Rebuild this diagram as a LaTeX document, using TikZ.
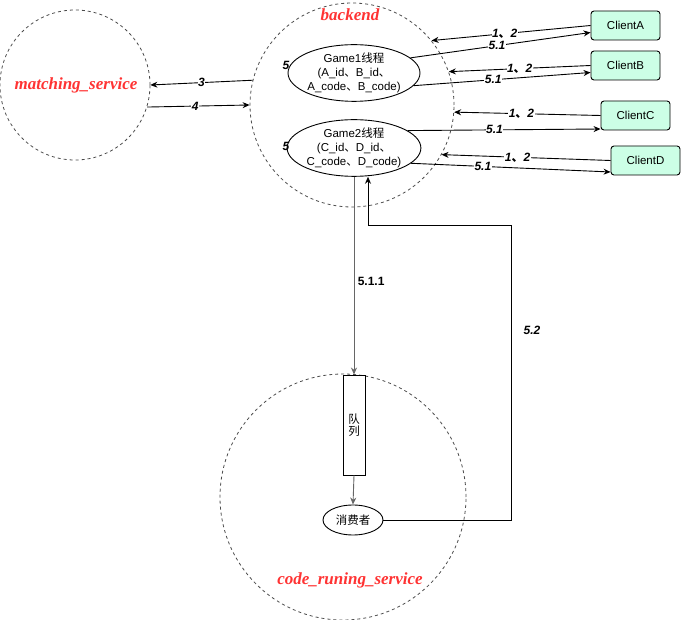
\documentclass[tikz,border=0pt]{standalone}
\usepackage{fontspec}
\setmainfont{Liberation Sans}
\newfontfamily\cjk{Noto Sans CJK SC}
\newfontfamily\svcfont{Liberation Serif}
\usetikzlibrary{arrows.meta,shapes.geometric}
\definecolor{svcred}{RGB}{255,51,51}
\definecolor{clientfill}{RGB}{204,255,230}
\tikzset{
  service/.style={circle,draw=black!70,dashed,dash pattern=on 3pt off 3pt,line width=0.8pt,inner sep=0pt},
  svclabel/.style={text=svcred,font=\svcfont\fontsize{17}{19}\selectfont\bfseries\itshape},
  thread/.style={ellipse,draw,line width=0.9pt,inner sep=0pt,align=center,font=\fontsize{11.5}{14}\selectfont},
  client/.style={rectangle,rounded corners=3pt,draw,fill=clientfill,line width=0.9pt,minimum width=69pt,minimum height=29pt,font=\fontsize{11.5}{13}\selectfont},
  arr/.style={-{Stealth[length=7pt,width=6pt]},line width=0.9pt},
  lbl/.style={fill=white,inner sep=0.5pt,font=\fontsize{12}{14}\selectfont\bfseries\itshape}
}
\begin{document}
\begin{tikzpicture}[x=1pt,y=-1pt]
  \useasboundingbox (0,0) rectangle (681,620);
  % services
  \node[service,minimum size=150pt] (ms) at (75,85) {};
  \node[service,minimum size=204pt] (be) at (352,105) {};
  \node[service,minimum size=246pt] (crs) at (343,497) {};
  \node[svclabel] (mslbl) at (76,85) {matching\_service};
  \node[svclabel] (belbl) at (350,15) {backend};
  \node[svclabel] (crslbl) at (350,580) {code\_runing\_service};
  % threads
  \node[thread,minimum width=124pt,minimum height=48pt] (g1) at (354,73)
    {Game1{\cjk 线程}\\(A\_id{\cjk 、}B\_id{\cjk 、}\\A\_code{\cjk 、}B\_code)};
  \node[thread,minimum width=128pt,minimum height=50pt] (g2) at (354,148)
    {Game2{\cjk 线程}\\(C\_id{\cjk 、}D\_id{\cjk 、}\\C\_code{\cjk 、}D\_code)};
  \node[lbl,fill=none] (n5a) at (286,65) {5};
  \node[lbl,fill=none] (n5b) at (286,146) {5};
  % clients
  \node[client] (ca) at (625.5,25.5) {ClientA};
  \node[client] (cb) at (625.5,65.5) {ClientB};
  \node[client] (cc) at (635.5,115.5) {ClientC};
  \node[client] (cd) at (645.5,160.5) {ClientD};
  % queue and consumer
  \node[rectangle,draw,line width=0.9pt,minimum width=22pt,minimum height=100pt,inner sep=0pt,
    align=center,font=\cjk\fontsize{11.5}{12.5}\selectfont] (queue) at (354,425) {队\\列};
  \node[ellipse,draw,line width=0.9pt,minimum width=60pt,minimum height=30pt,inner sep=0pt,
    font=\cjk\fontsize{11.5}{13}\selectfont] (cons) at (353,520) {消费者};
  \coordinate (ret) at (511,225);
  \begin{scope}[arr]
    \draw (ca.west) to node[lbl,pos=0.54] {1{\cjk 、}2} (be.39);
    \draw (g1.15) to node[lbl,pos=0.48] {5.1} ([yshift=-7pt]ca.west);
    \draw (cb.west) to node[lbl,pos=0.5] {1{\cjk 、}2} (be.19);
    \draw (g1.-12) to node[lbl,pos=0.45] {5.1} ([yshift=-7pt]cb.west);
    \draw (cc.west) to node[lbl,pos=0.54] {1{\cjk 、}2} (be.-4);
    \draw (g2.18) to node[lbl,pos=0.45] {5.1} ([yshift=-13.5pt]cc.west);
    \draw (cd.west) to node[lbl,pos=0.55] {1{\cjk 、}2} (be.-29);
    \draw (g2.-15) to node[lbl,pos=0.36] {5.1} ([yshift=-11.5pt]cd.west);
    \draw (be.166) to node[lbl,pos=0.5] {3} (ms.0);
    \draw (ms.-17) to node[lbl,pos=0.47] {4} (be.180);
    \draw[black!60] (g2.south) to node[pos=0.53,right,text=black,font=\fontsize{12}{14}\selectfont\bfseries] {5.1.1} (queue.north);
    \draw[black!60] (queue.south) to (cons.north);
    \draw (cons.east) -| (ret) -| ([xshift=14pt]g2.south);
  \end{scope}
  \node[lbl,fill=none] (l52) at (532,330) {5.2};
\end{tikzpicture}
\end{document}
